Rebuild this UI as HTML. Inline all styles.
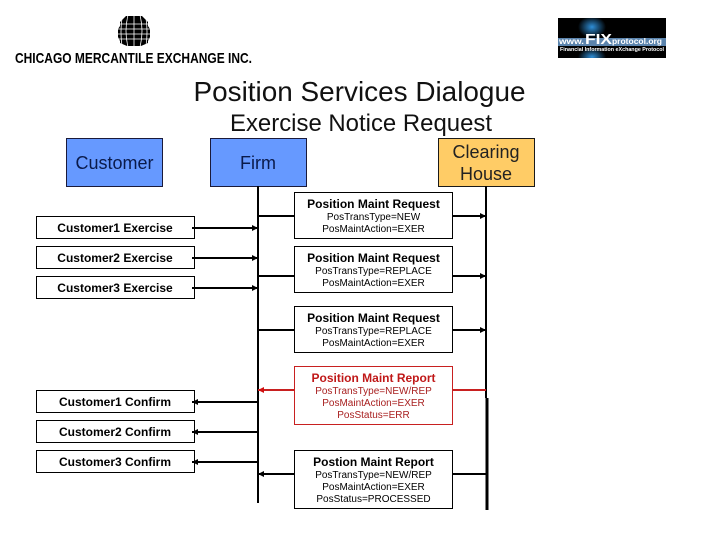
<!DOCTYPE html>
<html><head><meta charset="utf-8"><style>
html,body{margin:0;padding:0;background:#fff;width:720px;height:540px;overflow:hidden}
svg{display:block}
text{font-family:"Liberation Sans",Arial,sans-serif;text-anchor:middle;fill:#000}
.b{font-weight:bold;font-size:12px}
.s{font-size:10px}
.h{font-size:18px;fill:#0a1a4a}
.h2{font-size:18px;fill:#222}
</style></head><body>
<svg width="720" height="540" viewBox="0 0 720 540" xmlns="http://www.w3.org/2000/svg">
<defs>
<marker id="a" markerWidth="6" markerHeight="6" refX="6" refY="3" orient="auto" markerUnits="userSpaceOnUse"><path d="M0 0L6 3L0 6z" fill="#000"/></marker>
<marker id="r" markerWidth="6" markerHeight="6" refX="6" refY="3" orient="auto" markerUnits="userSpaceOnUse"><path d="M0 0L6 3L0 6z" fill="#d01010"/></marker>
<radialGradient id="g1" cx="50%" cy="50%" r="50%"><stop offset="0" stop-color="#2f8fd8"/><stop offset="1" stop-color="#000"/></radialGradient>
<clipPath id="gl"><path d="M126 16h16l6 6v4l2 3v8l-2 4v2l-7 3h-14l-7-3v-2l-2-4v-8l2-3v-4z"/></clipPath>
<clipPath id="fx"><rect x="558" y="18" width="108" height="40"/></clipPath>
</defs>

<!-- CME logo -->
<g>
<path d="M126 16h16l6 6v4l2 3v8l-2 4v2l-7 3h-14l-7-3v-2l-2-4v-8l2-3v-4z" fill="#000"/>
<g clip-path="url(#gl)" stroke="#fff" stroke-width="0.8" fill="none">
<path d="M118 24h32M118 29h32M118 34h32M118 39h32"/>
<path d="M134 15v32M128 15q-4 16 0 32M140 15q4 16 0 32M122 18q-2 14 0 28M146 18q2 14 0 28"/>
</g>
<text x="133.500" y="63" style="font-size:15px;font-weight:bold" textLength="237" lengthAdjust="spacingAndGlyphs">CHICAGO MERCANTILE EXCHANGE INC.</text>
</g>

<!-- FIX logo -->
<g clip-path="url(#fx)">
<rect x="558" y="18" width="108" height="40" fill="#000"/>
<ellipse cx="592" cy="27" rx="14" ry="11" fill="url(#g1)"/>
<ellipse cx="592" cy="57" rx="14" ry="9" fill="url(#g1)"/>
<rect x="558" y="38" width="108" height="8" fill="#5b84ad"/>
<text x="571.500" y="44" style="font-size:8px;font-weight:bold;fill:#fff" textLength="25" lengthAdjust="spacingAndGlyphs">www.</text>
<text x="598.500" y="44" style="font-size:15px;font-weight:bold;fill:#fff" textLength="27" lengthAdjust="spacingAndGlyphs">FIX</text>
<text x="637" y="44" style="font-size:8px;font-weight:bold;fill:#fff" textLength="50" lengthAdjust="spacingAndGlyphs">protocol.org</text>
<text x="612" y="51" style="font-size:5.500px;font-weight:bold;fill:#fff" textLength="104" lengthAdjust="spacingAndGlyphs">Financial Information eXchange Protocol</text>
</g>

<!-- Titles -->
<text x="359.500" y="101" style="font-size:28px;fill:#111" textLength="332" lengthAdjust="spacingAndGlyphs">Position Services Dialogue</text>
<text x="361" y="131" style="font-size:24px;fill:#111" textLength="262" lengthAdjust="spacingAndGlyphs">Exercise Notice Request</text>

<!-- Header boxes -->
<rect x="66.500" y="138.500" width="96" height="48" fill="#6699ff" stroke="#1a1a3a"/>
<rect x="210.500" y="138.500" width="96" height="48" fill="#6699ff" stroke="#1a1a3a"/>
<rect x="438.500" y="138.500" width="96" height="48" fill="#ffcc66" stroke="#1a1a1a"/>
<text class="h" x="114.500" y="169">Customer</text>
<text class="h" x="258" y="169">Firm</text>
<text class="h2" x="486" y="158">Clearing</text>
<text class="h2" x="486" y="180">House</text>

<!-- Lifelines -->
<line x1="258" y1="186" x2="258" y2="503" stroke="#000" stroke-width="2"/>
<line x1="486" y1="186" x2="486" y2="398" stroke="#000" stroke-width="2"/>
<line x1="487" y1="398" x2="487" y2="510" stroke="#000" stroke-width="3"/>

<!-- Left boxes -->
<g fill="#fff" stroke="#000">
<rect x="36.500" y="216.500" width="158" height="22"/>
<rect x="36.500" y="246.500" width="158" height="22"/>
<rect x="36.500" y="276.500" width="158" height="22"/>
<rect x="36.500" y="390.500" width="158" height="22"/>
<rect x="36.500" y="420.500" width="158" height="22"/>
<rect x="36.500" y="450.500" width="158" height="22"/>
</g>

<!-- Connectors -->
<g stroke="#000" stroke-width="2" fill="none">
<line x1="192" y1="228" x2="258" y2="228" marker-end="url(#a)"/>
<line x1="192" y1="258" x2="258" y2="258" marker-end="url(#a)"/>
<line x1="192" y1="288" x2="258" y2="288" marker-end="url(#a)"/>
<line x1="258" y1="402" x2="192" y2="402" marker-end="url(#a)"/>
<line x1="258" y1="432" x2="192" y2="432" marker-end="url(#a)"/>
<line x1="258" y1="462" x2="192" y2="462" marker-end="url(#a)"/>
<line x1="258" y1="216" x2="486" y2="216" marker-end="url(#a)"/>
<line x1="258" y1="276" x2="486" y2="276" marker-end="url(#a)"/>
<line x1="258" y1="330" x2="486" y2="330" marker-end="url(#a)"/>
<line x1="486" y1="474" x2="258" y2="474" marker-end="url(#a)"/>
</g>
<line x1="486" y1="390" x2="258" y2="390" stroke="#c82020" stroke-width="2" marker-end="url(#r)"/>

<text class="b" x="115" y="232">Customer1 Exercise</text>
<text class="b" x="115" y="262">Customer2 Exercise</text>
<text class="b" x="115" y="292">Customer3 Exercise</text>
<text class="b" x="115" y="406">Customer1 Confirm</text>
<text class="b" x="115" y="436">Customer2 Confirm</text>
<text class="b" x="115" y="466">Customer3 Confirm</text>

<!-- Middle boxes -->
<g fill="#fff" stroke="#000">
<rect x="294.500" y="192.500" width="158" height="46"/>
<rect x="294.500" y="246.500" width="158" height="46"/>
<rect x="294.500" y="306.500" width="158" height="46"/>
<rect x="294.500" y="450.500" width="158" height="58"/>
</g>
<rect x="294.500" y="366.500" width="158" height="58" fill="#fff" stroke="#c82020"/>

<text class="b" x="373.500" y="208">Position Maint Request</text>
<text class="s" x="373.500" y="220">PosTransType=NEW</text>
<text class="s" x="373.500" y="232">PosMaintAction=EXER</text>

<text class="b" x="373.500" y="262">Position Maint Request</text>
<text class="s" x="373.500" y="274">PosTransType=REPLACE</text>
<text class="s" x="373.500" y="286">PosMaintAction=EXER</text>

<text class="b" x="373.500" y="322">Position Maint Request</text>
<text class="s" x="373.500" y="334">PosTransType=REPLACE</text>
<text class="s" x="373.500" y="346">PosMaintAction=EXER</text>

<text class="b" x="373.500" y="382" style="fill:#c01818">Position Maint Report</text>
<text class="s" x="373.500" y="394" style="fill:#a82020">PosTransType=NEW/REP</text>
<text class="s" x="373.500" y="406" style="fill:#a82020">PosMaintAction=EXER</text>
<text class="s" x="373.500" y="418" style="fill:#a82020">PosStatus=ERR</text>

<text class="b" x="373.500" y="466">Postion Maint Report</text>
<text class="s" x="373.500" y="478">PosTransType=NEW/REP</text>
<text class="s" x="373.500" y="490">PosMaintAction=EXER</text>
<text class="s" x="373.500" y="502">PosStatus=PROCESSED</text>
</svg>
</body></html>
